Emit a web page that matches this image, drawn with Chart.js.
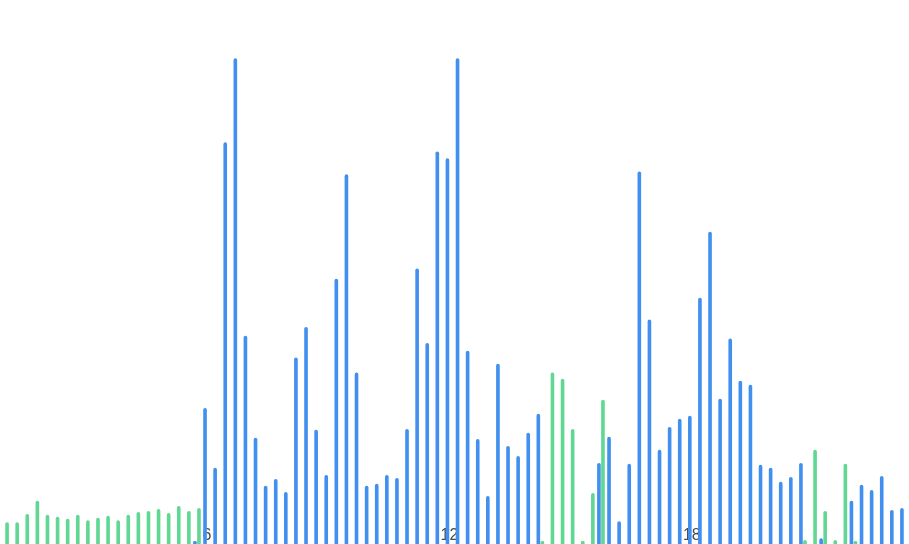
<!DOCTYPE html>
<html>
<head>
<meta charset="utf-8">
<script src="https://cdn.jsdelivr.net/npm/chart.js@4"></script>
<style>
  html, body { margin: 0; padding: 0; background: #fff; }
  #wrap { width: 909px; height: 544px; position: relative; }
</style>
</head>
<body>
<div id="wrap"><canvas id="myChart"></canvas></div>
<script>
// 15 minute slots, 1:00 .. 23:15
var times = [
  "1:00","1:15","1:30","1:45","2:00","2:15","2:30","2:45","3:00","3:15",
  "3:30","3:45","4:00","4:15","4:30","4:45","5:00","5:15","5:30","5:45",
  "6:00","6:15","6:30","6:45","7:00","7:15","7:30","7:45","8:00","8:15",
  "8:30","8:45","9:00","9:15","9:30","9:45","10:00","10:15","10:30","10:45",
  "11:00","11:15","11:30","11:45","12:00","12:15","12:30","12:45","13:00","13:15",
  "13:30","13:45","14:00","14:15","14:30","14:45","15:00","15:15","15:30","15:45",
  "16:00","16:15","16:30","16:45","17:00","17:15","17:30","17:45","18:00","18:15",
  "18:30","18:45","19:00","19:15","19:30","19:45","20:00","20:15","20:30","20:45",
  "21:00","21:15","21:30","21:45","22:00","22:15","22:30","22:45","23:00","23:15"
];

// categories that get a tick label, and the label text
var tickAt = ["6:00", "12:00", "18:00"];
var tickText = ["6", "12", "18"];

var blueValues = [
  0, 0, 0, 0, 0, 0, 0, 0, 0, 0,
  0, 0, 0, 0, 0, 0, 0, 0, 0, 0.6,
  28.0, 15.7, 82.7, 100, 42.9, 21.9, 12.0, 13.4, 10.7, 38.4,
  44.7, 23.5, 14.2, 54.6, 76.1, 35.3, 12.0, 12.4, 14.2, 13.6,
  23.7, 56.7, 41.4, 80.8, 79.4, 100, 39.8, 21.6, 9.9, 37.1,
  20.2, 18.1, 22.9, 26.8, 0, 0, 0, 0, 0, 16.7,
  22.1, 4.7, 16.5, 76.7, 46.2, 19.4, 24.1, 25.8, 26.4, 50.7,
  64.3, 29.9, 42.3, 33.6, 32.8, 16.3, 15.7, 12.8, 13.8, 16.7,
  0, 1.2, 0, 0, 8.9, 12.2, 11.1, 14.0, 7.0, 7.4
];

var greenValues = [
  4.5, 4.5, 6.2, 8.9, 6.0, 5.6, 5.2, 6.0, 4.9, 5.4,
  5.8, 4.9, 6.0, 6.6, 6.8, 7.2, 6.4, 7.8, 6.8, 7.4,
  0, 0, 0, 0, 0, 0, 0, 0, 0, 0,
  0, 0, 0, 0, 0, 0, 0, 0, 0, 0,
  0, 0, 0, 0, 0, 0, 0, 0, 0, 0,
  0, 0, 0, 0.6, 35.3, 34.0, 23.7, 0.6, 10.5, 29.7,
  0, 0, 0, 0, 0, 0, 0, 0, 0, 0,
  0, 0, 0, 0, 0, 0, 0, 0, 0, 0.8,
  19.4, 6.8, 0.8, 16.5, 0.6, 0, 0, 0, 0, 0
];

var context = document.getElementById('myChart');
var chart = new Chart(context, {
  type: 'bar',
  data: {
    labels: times,
    datasets: [{
      label: 'blue',
      data: blueValues,
      backgroundColor: '#4190ef',
      borderRadius: 2,
      borderSkipped: 'bottom'
    }, {
      label: 'green',
      data: greenValues,
      backgroundColor: '#60d893',
      borderRadius: 2,
      borderSkipped: 'bottom'
    }]
  },
  options: {
    responsive: true,
    maintainAspectRatio: false,
    animation: false,
    layout: { padding: { left: -2, right: 0, top: 0, bottom: 0 } },
    plugins: {
      legend: { display: false },
      tooltip: { enabled: false }
    },
    scales: {
      x: {
        z: 1,
        grid: { display: false, drawTicks: false },
        border: { display: false },
        ticks: {
          autoSkip: false,
          maxRotation: 0,
          mirror: true,
          padding: 0,
          color: '#4a4a4a',
          font: { family: 'Liberation Sans', size: 16, lineHeight: 1 },
          callback: function(val, i) {
            var k = tickAt.indexOf(times[i]);
            return k >= 0 ? tickText[k] : '';
          }
        }
      },
      y: {
        display: false,
        min: 0,
        max: 112
      }
    }
  }
});
</script>
</body>
</html>
